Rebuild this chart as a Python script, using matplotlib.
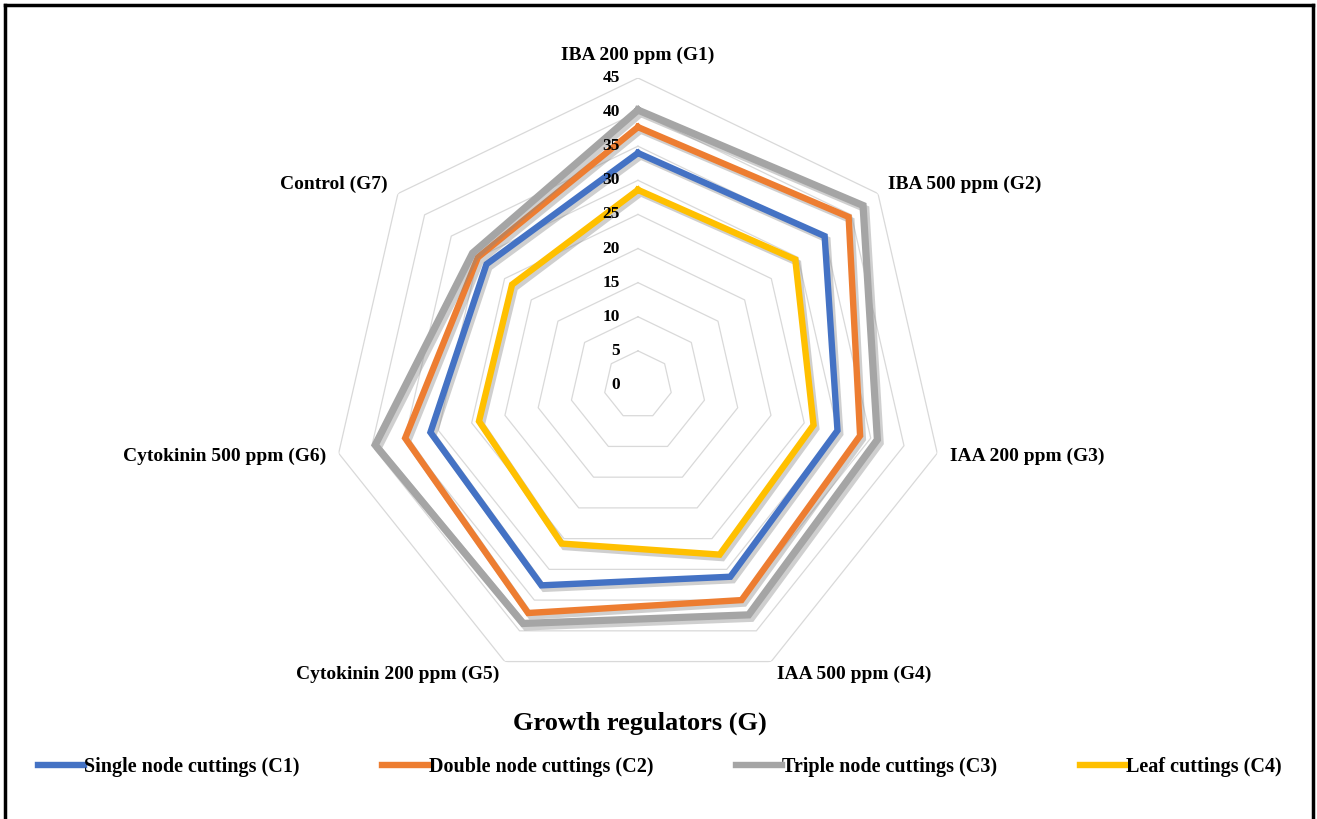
import numpy as np
import matplotlib
matplotlib.use("Agg")
import matplotlib.pyplot as plt
import matplotlib.patheffects as pe
from matplotlib.lines import Line2D
from matplotlib.transforms import offset_copy

plt.rcParams["font.family"] = ["Liberation Serif", "DejaVu Serif"]
plt.rcParams["font.weight"] = "bold"

# Growth regulator treatments (spokes, clockwise from the top)
regulators = [
    "IBA 200 ppm (G1)",
    "IBA 500 ppm (G2)",
    "IAA 200 ppm (G3)",
    "IAA 500 ppm (G4)",
    "Cytokinin 200 ppm (G5)",
    "Cytokinin 500 ppm (G6)",
    "Control (G7)",
]

# Cutting types
cutting_names = [
    "Single node cuttings (C1)",
    "Double node cuttings (C2)",
    "Triple node cuttings (C3)",
    "Leaf cuttings (C4)",
]
single_node = [34.0, 35.0, 30.0, 31.2, 32.6, 31.2, 28.4]
double_node = [37.8, 39.5, 33.4, 35.0, 37.1, 35.0, 30.0]
triple_node = [40.3, 42.2, 36.0, 37.4, 38.8, 39.5, 31.0]
leaf = [28.6, 29.5, 26.4, 27.6, 25.8, 23.9, 23.6]

colors = ["#4472C4", "#ED7D31", "#A5A5A5", "#FFC000"]
widths = [4.6, 4.6, 5.2, 4.6]
levels = [0, 5, 10, 15, 20, 25, 30, 35, 40, 45]

fig = plt.figure(figsize=(13.17, 8.19), dpi=100)
ax = fig.add_axes([0.2513, 0.1551, 0.4662, 0.7497], projection="polar")
ax.set_theta_offset(np.pi / 2)
ax.set_theta_direction(-1)
ax.set_ylim(0, max(levels))
ax.grid(False)
ax.spines["polar"].set_visible(False)
ax.set_xticks([])
ax.set_yticks([])

n = len(regulators)
angles = np.linspace(0, 2 * np.pi, n, endpoint=False)
closed = np.append(angles, angles[0])

# heptagonal gridlines
for lv in levels[1:]:
    ax.plot(closed, [lv] * (n + 1), color="#d9d9d9", lw=0.9, zorder=1)

shadow = [pe.SimpleLineShadow(offset=(2, -2.5), shadow_color="#888888", alpha=0.4),
          pe.Normal()]
series = [single_node, double_node, triple_node, leaf]
handles = []
for vals, c, w in zip(series, colors, widths):
    v = np.append(vals, vals[0])
    ax.plot(closed, v, color=c, lw=w, solid_joinstyle="miter",
            path_effects=shadow, zorder=3)
    handles.append(Line2D([], [], color=c, lw=4.6))

# radial value labels along the top spoke
tick_tf = offset_copy(ax.transData, fig=fig, x=-18, y=0, units="dots")
for lv in levels:
    ax.text(0, lv, str(lv), transform=tick_tf, ha="right", va="center",
            fontsize=12.5, fontweight="bold", zorder=4)

# category labels around the outer ring
for ang, lab in zip(angles, regulators):
    dx = np.sin(ang)
    dy = np.cos(ang)
    ha = "left" if dx > 0.1 else ("right" if dx < -0.1 else "center")
    va = "bottom" if dy > 0.9 else "center"
    tf = offset_copy(ax.transData, fig=fig, x=13 * dx, y=14 * dy, units="dots")
    ax.text(ang, max(levels), lab, transform=tf, ha=ha, va=va,
            fontsize=14, fontweight="bold")

fig.text(0.486, 1 - 723 / 819, "Growth regulators (G)", ha="center",
         va="center", fontsize=19, fontweight="bold")

fig.legend(handles, cutting_names, loc="center",
           bbox_to_anchor=(0.501, 1 - 767 / 819), ncol=4, frameon=False,
           handlelength=2.3, handletextpad=0.0, columnspacing=4.1,
           prop={"size": 14.5, "weight": "bold"})

# outer frame
for xs, ys in [([0.004, 0.004], [0, 0.994]), ([0.004, 0.997], [0.994, 0.994]),
               ([0.997, 0.997], [0, 0.994])]:
    fig.add_artist(Line2D(xs, ys, transform=fig.transFigure, color="black", lw=2.5))

fig.savefig("out.png", dpi=100)
